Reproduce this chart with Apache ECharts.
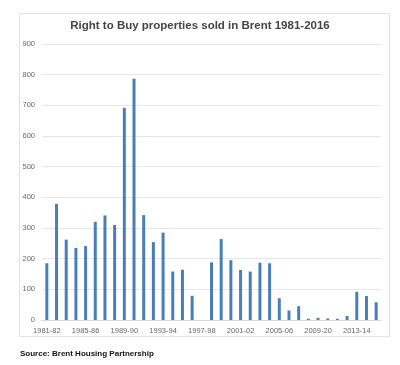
<!DOCTYPE html>
<html><head><meta charset="utf-8">
<script src="https://cdn.jsdelivr.net/npm/echarts@6/dist/echarts.min.js"></script>
<style>html,body{margin:0;padding:0;background:#fff}#c{width:400px;height:365px}</style>
</head><body><div id="c"></div>
<script>
const categories = ["1981-82","1982-83","1983-84","1984-85","1985-86","1986-87","1987-88","1988-89","1989-90","1990-91","1991-92","1992-93","1993-94","1994-95","1995-96","1996-97","1997-98","1998-99","1999-00","2000-01","2001-02","2002-03","2003-04","2004-05","2005-06","2006-07","2007-08","2008-09","2009-20","2010-11","2011-12","2012-13","2013-14","2014-15","2015-16"];
const sold = [185,379,262,235,241,320,341,310,692,787,342,254,285,158,164,79,0,188,264,195,163,158,187,185,71,31,45,4,7,5,4,13,92,78,58];
const yTicks = [0,100,200,300,400,500,600,700,800,900];
const titleText = "Right to Buy properties sold in Brent 1981-2016";
const sourceText = "Source: Brent Housing Partnership";

const chart = echarts.init(document.getElementById('c'), null, {renderer:'canvas'});
const font = '"Liberation Sans", Arial, Helvetica, sans-serif';
chart.setOption({
  animation:false,
  textStyle:{fontFamily:font},
  title:{text:titleText,left:'center',top:15,textStyle:{fontSize:11.5,fontWeight:'bold',color:'#444',fontFamily:font}},
  graphic:[
    {type:'rect',shape:{x:19.5,y:13.5,width:370,height:323},style:{fill:'none',stroke:'#e2e2e2',lineWidth:1},z:-1},
    {type:'text',left:20,top:350,style:{text:sourceText,font:'bold 8px '+font,fill:'#111'}}
  ],
  grid:{left:42,right:19,top:44,bottom:45},
  xAxis:{type:'category',data:categories,boundaryGap:true,
    axisLine:{lineStyle:{color:'#d9d9d9'}},axisTick:{show:false},
    axisLabel:{interval:3,color:'#666',fontSize:7.5,margin:7,fontFamily:font}},
  yAxis:{type:'value',min:yTicks[0],max:yTicks[yTicks.length-1],interval:100,
    axisLine:{show:false},axisTick:{show:false},
    splitLine:{lineStyle:{color:'#e6e6e6'}},
    axisLabel:{color:'#666',fontSize:7.5,margin:7,fontFamily:font}},
  series:[{type:'bar',data:sold,barWidth:3,itemStyle:{color:'#4a7ebb'}}]
});
</script></body></html>
